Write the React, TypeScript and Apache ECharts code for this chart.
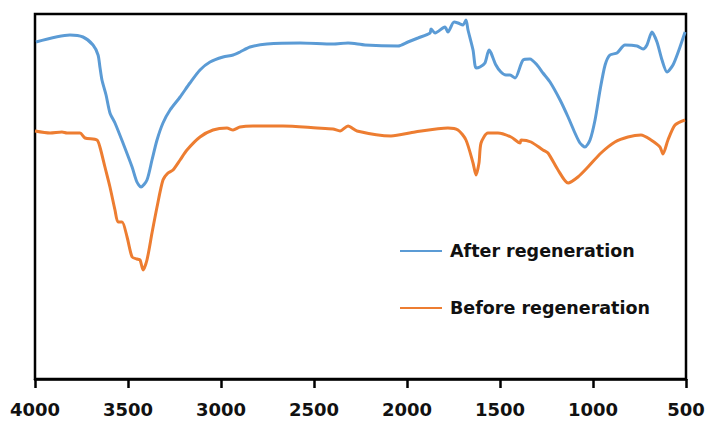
import React, { useEffect, useRef } from "react";
import * as echarts from "echarts";

// Wavenumber (cm⁻¹) and relative transmittance for each spectrum
const afterWavenumber = [
  3995, 3812, 3742, 3688, 3661, 3651, 3640, 3618, 3597, 3570, 3527, 3478, 3452, 3430,
  3398, 3371, 3344, 3312, 3274, 3220, 3167, 3113, 3059, 2989, 2935, 2898, 2844, 2753,
  2575, 2398, 2317, 2226, 2048, 1995, 1941, 1876, 1871, 1849, 1796, 1780, 1747, 1726,
  1699, 1683, 1672, 1645, 1629, 1608, 1581, 1559, 1548, 1522, 1495, 1468, 1446, 1419,
  1376, 1339, 1301, 1269, 1231, 1177, 1134, 1097, 1070, 1043, 1016, 989, 962, 935,
  909, 871, 828, 763, 731, 710, 683, 656, 629, 602, 570, 538, 505,
];
const afterValues = [
  337, 344, 342, 334, 324, 312, 299, 284, 266, 256, 236, 212, 197, 192,
  199, 219, 239, 256, 269, 282, 296, 309, 317, 322, 324, 327, 332, 335,
  336, 335, 336, 334, 333, 337, 341, 346, 350, 346, 352, 347, 357, 356,
  354, 359, 349, 329, 311, 312, 316, 329, 326, 314, 307, 304, 304, 301,
  319, 320, 314, 306, 297, 279, 262, 246, 236, 232, 239, 259, 289, 314,
  324, 326, 334, 333, 330, 334, 347, 337, 319, 307, 314, 329, 347,
];

const beforeWavenumber = [
  4000, 3919, 3855, 3828, 3758, 3731, 3667, 3651, 3624, 3597, 3570, 3554, 3532, 3505,
  3478, 3452, 3435, 3419, 3398, 3371, 3344, 3312, 3285, 3258, 3220, 3183, 3113, 3043,
  2968, 2935, 2898, 2828, 2667, 2484, 2398, 2360, 2317, 2269, 2086, 1957, 1780, 1726,
  1683, 1645, 1629, 1613, 1602, 1565, 1511, 1441, 1392, 1387, 1333, 1269, 1242, 1188,
  1134, 1081, 1027, 957, 882, 812, 742, 688, 640, 624, 597, 559, 505,
];
const beforeValues = [
  248, 246, 247, 246, 246, 241, 239, 232, 212, 192, 169, 157, 157, 142,
  122, 120, 119, 109, 119, 146, 172, 199, 206, 209, 219, 229, 242, 249,
  251, 249, 252, 253, 253, 251, 250, 248, 253, 248, 243, 247, 251, 249,
  239, 216, 204, 216, 236, 246, 246, 242, 236, 239, 237, 229, 226, 209,
  196, 202, 212, 226, 237, 242, 244, 239, 232, 225, 239, 254, 259,
];

const xTicks = { min: 500, max: 4000, step: 500 };

const pair = (xs: number[], ys: number[]) => xs.map((x, i) => [x, ys[i]]);

const FONT = "DejaVu Sans";

export default function App() {
  const ref = useRef<HTMLDivElement>(null);

  useEffect(() => {
    if (!ref.current) return;
    const chart = echarts.init(ref.current, undefined, { renderer: "svg" });
    chart.setOption({
      animation: false,
      backgroundColor: "#ffffff",
      grid: {
        left: 35,
        right: 22,
        top: 14,
        bottom: 42,
        show: true,
        borderColor: "#000000",
        borderWidth: 2.5,
        backgroundColor: "transparent",
      },
      legend: {
        orient: "vertical",
        left: 400,
        top: 241,
        padding: 0,
        icon: "rect",
        itemWidth: 42,
        itemHeight: 2,
        itemGap: 37,
        data: ["After regeneration", "Before regeneration"],
        lineStyle: { width: 2.5 },
        textStyle: {
          fontFamily: FONT,
          fontWeight: "bold",
          fontSize: 17.5,
          color: "#111111",
          lineHeight: 20,
          padding: [0, 0, 0, 3],
        },
      },
      xAxis: {
        type: "value",
        inverse: true,
        min: xTicks.min,
        max: xTicks.max,
        interval: xTicks.step,
        splitLine: { show: false },
        axisLine: { show: true, lineStyle: { color: "#000000", width: 2.5 } },
        axisTick: { show: true, length: 9, lineStyle: { color: "#000000", width: 2.5 } },
        axisLabel: {
          margin: 21,
          fontFamily: FONT,
          fontWeight: "bold",
          fontSize: 18,
          color: "#111111",
          showMinLabel: true,
          showMaxLabel: true,
          formatter: (v: number) => String(v),
        },
      },
      yAxis: {
        type: "value",
        min: 0,
        max: 365,
        show: false,
        splitLine: { show: false },
      },
      series: [
        {
          name: "After regeneration",
          type: "line",
          symbol: "none",
          smooth: 0.25,
          data: pair(afterWavenumber, afterValues),
          lineStyle: { color: "#5B9BD5", width: 3 },
          itemStyle: { color: "#5B9BD5" },
        },
        {
          name: "Before regeneration",
          type: "line",
          symbol: "none",
          smooth: 0.25,
          data: pair(beforeWavenumber, beforeValues),
          lineStyle: { color: "#ED7D31", width: 3 },
          itemStyle: { color: "#ED7D31" },
        },
      ],
    });
    return () => chart.dispose();
  }, []);

  return (
    <div
      ref={ref}
      style={{ position: "fixed", left: 0, top: 0, width: 708, height: 421, background: "#fff" }}
    />
  );
}
